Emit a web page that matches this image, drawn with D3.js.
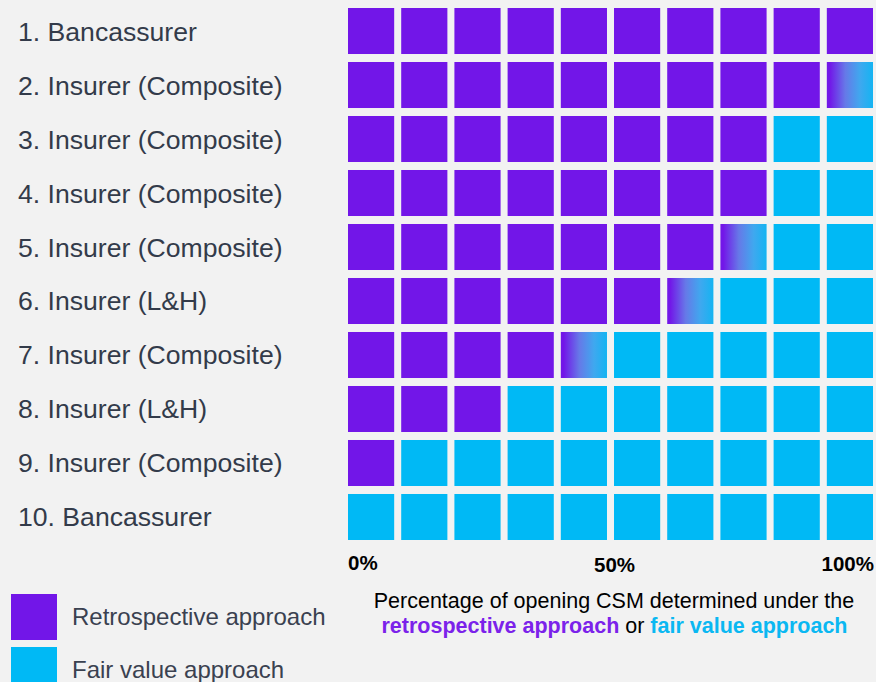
<!DOCTYPE html>
<html><head><meta charset="utf-8">
<script src="https://cdn.jsdelivr.net/npm/d3@7"></script>
<style>
html,body{margin:0;padding:0;background:#f2f2f2;}
svg{display:block;font-family:"Liberation Sans",Arial,sans-serif;}
</style></head>
<body><svg id="chart" width="876" height="682"></svg>
<script>
const companies = ["1. Bancassurer","2. Insurer (Composite)","3. Insurer (Composite)","4. Insurer (Composite)","5. Insurer (Composite)","6. Insurer (L&H)","7. Insurer (Composite)","8. Insurer (L&H)","9. Insurer (Composite)","10. Bancassurer"];
const retrospectivePct = [100, 95, 80, 80, 75, 65, 45, 30, 10, 0];
const tickValues = [0, 50, 100];
const tickLabels = ["0%", "50%", "100%"];
const legendLabels = ["Retrospective approach", "Fair value approach"];
const PURPLE = "#7216e8", BLUE = "#00b9f5";

const svg = d3.select("#chart");
svg.append("rect").attr("width",876).attr("height",682).attr("fill","#f2f2f2");

const defs = svg.append("defs");
const grad = defs.append("linearGradient").attr("id","mix").attr("x1","0").attr("x2","1").attr("y1","0").attr("y2","0");
[[0,PURPLE],[0.06,PURPLE],[0.4,"#6679e8"],[0.72,"#3fa8ef"],[1,"#14b4f2"]].forEach(([o,c])=>
  grad.append("stop").attr("offset",o).attr("stop-color",c));

const cols = d3.range(10);
const x = d3.scaleBand().domain(cols).range([348, 873]).paddingInner(0.132);
const y = d3.scaleBand().domain(companies).range([8, 540]).paddingInner(0.148);
const pct = d3.scaleLinear().domain([0,100]).range([348, 873]);

const cells = [];
companies.forEach((c,r)=>{
  cols.forEach(i=>{
    const f = Math.max(0, Math.min(1, (retrospectivePct[r] - i*10)/10));
    cells.push({company:c, col:i, f});
  });
});

svg.append("g").selectAll("rect").data(cells).join("rect")
  .attr("x", d=>x(d.col)).attr("y", d=>y(d.company))
  .attr("width", x.bandwidth()).attr("height", y.bandwidth())
  .attr("fill", d=> d.f>=1 ? PURPLE : (d.f<=0 ? BLUE : "url(#mix)"));

svg.append("g").selectAll("text").data(companies).join("text")
  .attr("x", 18).attr("y", d=>y(d)+y.bandwidth()/2+9.5)
  .attr("font-size", 26.6).attr("fill", "#333b4a").text(d=>d);

const anchors = ["start","middle","end"];
const dxs = [0, 4, 1];
const dys = [570, 572, 571];
svg.append("g").selectAll("text").data(tickValues).join("text")
  .attr("x",(d,i)=>pct(d)+dxs[i]).attr("y",(d,i)=>dys[i])
  .attr("text-anchor",(d,i)=>anchors[i])
  .attr("font-size",20.5).attr("font-weight","bold").attr("fill","#000")
  .text((d,i)=>tickLabels[i]);

// legend
const lg = svg.append("g");
[PURPLE, BLUE].forEach((c,i)=>{
  lg.append("rect").attr("x",11).attr("y",594+i*53).attr("width",46).attr("height",46).attr("fill",c);
  lg.append("text").attr("x",72).attr("y",625+i*53).attr("font-size",24).attr("fill","#3a4150").text(legendLabels[i]);
});

// caption
const cap = svg.append("g").attr("font-size",21.5).attr("text-anchor","middle");
cap.append("text").attr("x",614).attr("y",608).attr("fill","#000").text("Percentage of opening CSM determined under the");
const t2 = cap.append("text").attr("x",614.5).attr("y",633);
t2.append("tspan").attr("font-weight","bold").attr("fill","#7b22ea").text("retrospective approach");
t2.append("tspan").attr("fill","#000").text(" or ");
t2.append("tspan").attr("font-weight","bold").attr("fill","#0ab8f2").text("fair value approach");
</script></body></html>
